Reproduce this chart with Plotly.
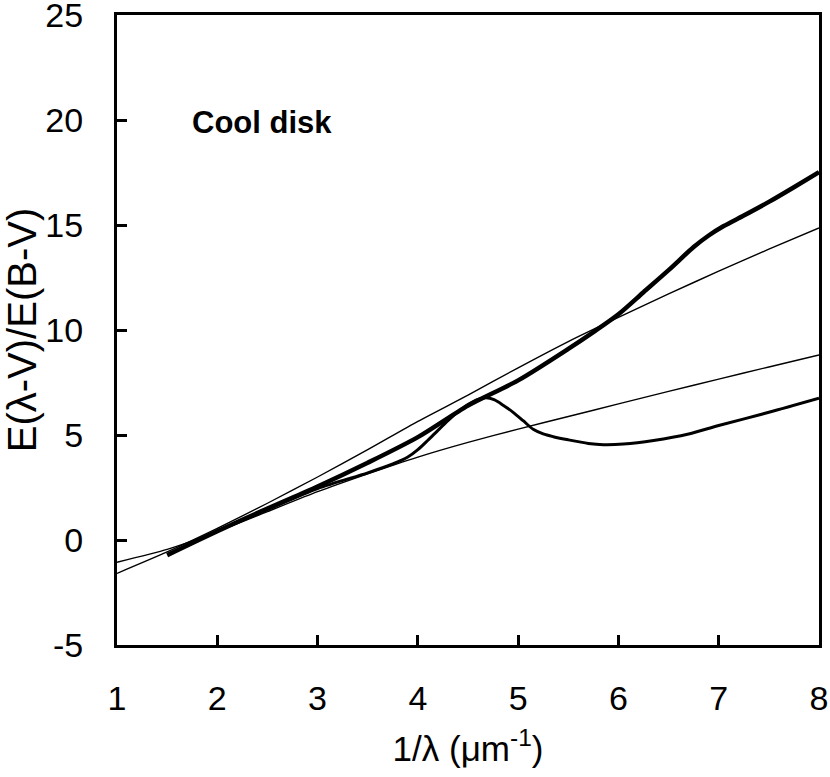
import plotly.graph_objects as go

# Thick curve (main extinction curve)
thick_x = [1.5, 2.0, 2.5, 3.0, 3.5, 4.0, 4.5, 5.0, 5.5, 5.75, 6.0, 6.25, 6.5, 6.75, 6.9, 7.05, 7.25, 7.5, 7.75, 8.0]
thick_y = [-0.72, 0.42, 1.5, 2.55, 3.68, 4.9, 6.4, 7.6, 9.1, 9.9, 10.75, 11.8, 12.85, 13.95, 14.5, 14.95, 15.45, 16.1, 16.8, 17.52]

# Curve with the bump
bump_x = [1.6, 2.0, 2.5, 3.0, 3.5, 3.75, 3.9, 4.0, 4.1, 4.2, 4.3, 4.4, 4.5, 4.6, 4.68, 4.76, 4.85, 4.95, 5.05, 5.15, 5.25, 5.35, 5.5, 5.7, 5.85, 6.05, 6.35, 6.7, 7.0, 7.5, 8.0]
bump_y = [-0.5, 0.42, 1.45, 2.45, 3.2, 3.62, 3.95, 4.3, 4.75, 5.22, 5.68, 6.1, 6.45, 6.7, 6.77, 6.68, 6.42, 6.08, 5.68, 5.27, 5.05, 4.92, 4.77, 4.6, 4.54, 4.57, 4.74, 5.05, 5.45, 6.08, 6.75]

# Thin line 1 (steeper)
thin1_x = [1.0, 1.5, 2.0, 2.5, 3.0, 3.5, 4.0, 4.5, 5.0, 5.5, 6.0, 6.5, 7.0, 7.5, 8.0]
thin1_y = [-1.59, -0.57, 0.55, 1.75, 3.0, 4.3, 5.65, 6.9, 8.2, 9.45, 10.6, 11.72, 12.8, 13.85, 14.86]

# Thin line 2 (shallower)
thin2_x = [1.0, 1.5, 2.0, 2.5, 3.0, 3.5, 4.0, 4.5, 5.0, 5.5, 6.0, 6.5, 7.0, 7.5, 8.0]
thin2_y = [-1.06, -0.45, 0.4, 1.35, 2.3, 3.15, 3.95, 4.65, 5.28, 5.88, 6.48, 7.08, 7.66, 8.24, 8.81]

x_ticks = [1, 2, 3, 4, 5, 6, 7, 8]
x_ticklabels = ["1", "2", "3", "4", "5", "6", "7", "8"]
y_ticks = [-5, 0, 5, 10, 15, 20, 25]
y_ticklabels = ["-5", "0", "5", "10", "15", "20", "25"]

FONT = "Liberation Sans, Arial, sans-serif"

fig = go.Figure()
fig.add_trace(go.Scatter(x=thin1_x, y=thin1_y, mode="lines",
                         line=dict(color="black", width=1.4, shape="spline", smoothing=0.6)))
fig.add_trace(go.Scatter(x=thin2_x, y=thin2_y, mode="lines",
                         line=dict(color="black", width=1.4, shape="spline", smoothing=0.6)))
fig.add_trace(go.Scatter(x=bump_x, y=bump_y, mode="lines",
                         line=dict(color="black", width=3, shape="spline", smoothing=0.8)))
fig.add_trace(go.Scatter(x=thick_x, y=thick_y, mode="lines",
                         line=dict(color="black", width=4.5, shape="spline", smoothing=0.8)))

fig.add_annotation(x=1.73, y=19.9, xref="x", yref="y", text="<b>Cool disk</b>",
                   showarrow=False, xanchor="left", yanchor="middle",
                   font=dict(family=FONT, size=31, color="black"))

fig.update_layout(
    width=830, height=777,
    margin=dict(l=117, r=11, t=15, b=132, autoexpand=False),
    paper_bgcolor="white", plot_bgcolor="white",
    showlegend=False,
    font=dict(family=FONT, color="black"),
)
fig.update_xaxes(
    range=[1, 8], tickvals=x_ticks, ticktext=x_ticklabels,
    showgrid=False, zeroline=False, automargin=False,
    showline=True, linecolor="black", linewidth=3, mirror=True,
    ticks="inside", ticklen=10, tickwidth=3, tickcolor="black",
    tickfont=dict(family=FONT, size=34, color="black"),
    ticklabelstandoff=21, ticklabeloverflow="allow",
    title=dict(text="1/λ (μm<sup>-1</sup>)", font=dict(family=FONT, size=35, color="black"), standoff=21),
)
fig.update_yaxes(
    range=[-5, 25], tickvals=y_ticks, ticktext=y_ticklabels,
    showgrid=False, zeroline=False, automargin=False,
    showline=True, linecolor="black", linewidth=3, mirror=True,
    ticks="inside", ticklen=10, tickwidth=3, tickcolor="black",
    tickfont=dict(family=FONT, size=34, color="black"),
    ticklabelstandoff=24, ticklabeloverflow="allow",
    title=dict(text="E(λ-V)/E(B-V)", font=dict(family=FONT, size=40, color="black"), standoff=6),
)

fig.write_html("out.html", config={"displayModeBar": False},
               post_script="document.body.style.margin='0';")
